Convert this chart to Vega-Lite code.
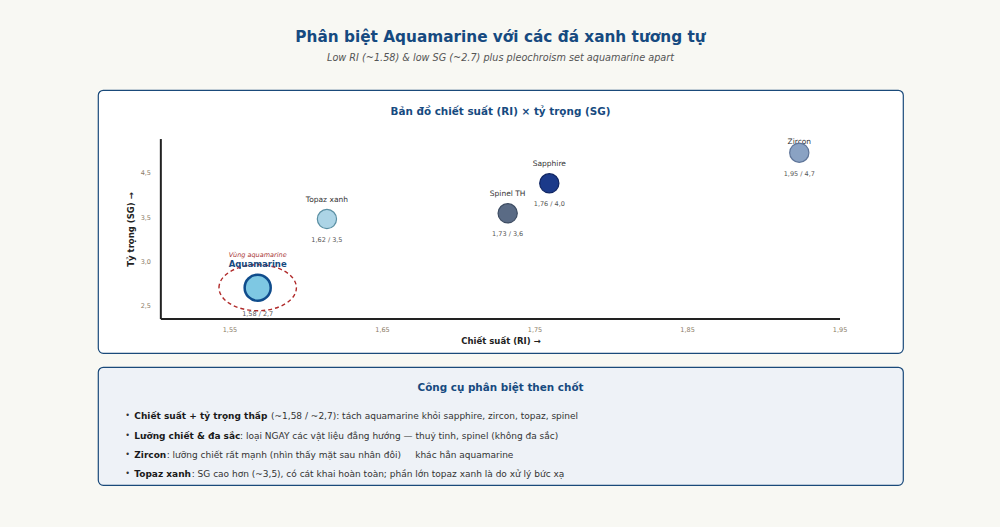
{
  "$schema": "https://vega.github.io/schema/vega-lite/v6.json",
  "background": "#f8f8f3",
  "padding": {"left": 97, "right": 98, "top": 30, "bottom": 42},
  "config": {"font": "DejaVu Sans", "view": {"stroke": null}},
  "title": {
    "text": "Phân biệt Aquamarine với các đá xanh tương tự",
    "subtitle": "Low RI (~1.58) & low SG (~2.7) plus pleochroism set aquamarine apart",
    "anchor": "middle",
    "frame": "group",
    "fontSize": 15.3,
    "fontWeight": "bold",
    "color": "#164a80",
    "subtitleFontSize": 9.7,
    "subtitleFontStyle": "italic",
    "subtitleColor": "#555555",
    "subtitlePadding": 7,
    "offset": 27
  },
  "datasets": {
    "gems": [
      {"name": "Aquamarine", "ri": 1.5685, "sg": 2.703, "label": "1,58 / 2,7"},
      {"name": "Topaz xanh", "ri": 1.6139, "sg": 3.477, "label": "1,62 / 3,5"},
      {"name": "Spinel TH", "ri": 1.7324, "sg": 3.542, "label": "1,73 / 3,6"},
      {"name": "Sapphire", "ri": 1.7597, "sg": 3.88, "label": "1,76 / 4,0"},
      {"name": "Zircon", "ri": 1.9236, "sg": 4.225, "label": "1,95 / 4,7"}
    ],
    "tips": [
      {"i": 1, "bold": "Chiết suất + tỷ trọng thấp", "rest": "(~1,58 / ~2,7): tách aquamarine khỏi sapphire, zircon, topaz, spinel"},
      {"i": 2, "bold": "Lưỡng chiết & đa sắc", "rest": ": loại NGAY các vật liệu đẳng hướng — thuỷ tinh, spinel (không đa sắc)"},
      {"i": 3, "bold": "Zircon", "rest": ": lưỡng chiết rất mạnh (nhìn thấy mặt sau nhân đôi)\u00a0\u00a0\u00a0\u00a0\u00a0khác hẳn aquamarine"},
      {"i": 4, "bold": "Topaz xanh", "rest": ": SG cao hơn (~3,5), có cát khai hoàn toàn; phần lớn topaz xanh là do xử lý bức xạ"}
    ]
  },
  "spacing": 12,
  "vconcat": [
    {
      "width": 805,
      "height": 263,
      "view": {"fill": "#ffffff", "stroke": "#1a4a7a", "strokeWidth": 1.2, "cornerRadius": 5},
      "title": {
        "text": "Bản đồ chiết suất (RI) × tỷ trọng (SG)",
        "fontSize": 10.4,
        "fontWeight": "bold",
        "color": "#164a80",
        "anchor": "middle",
        "offset": -27
      },
      "data": {"name": "gems"},
      "layer": [
        {
          "data": {"values": [{"part": "x"}]},
          "mark": {"type": "rule", "color": "#222222", "strokeWidth": 2},
          "encoding": {
            "x": {"datum": 1.505, "type": "quantitative"},
            "x2": {"datum": 1.9503},
            "y": {"datum": 2.35, "type": "quantitative"}
          }
        },
        {
          "data": {"values": [{"part": "y"}]},
          "mark": {"type": "rule", "color": "#222222", "strokeWidth": 2},
          "encoding": {
            "x": {"datum": 1.505, "type": "quantitative"},
            "y": {"datum": 2.35, "type": "quantitative"},
            "y2": {"datum": 4.379}
          }
        },
        {
          "transform": [{"filter": "datum.name === 'Aquamarine'"}],
          "mark": {"type": "point", "shape": "M -1 0 A 1 0.594 0 1 1 1 0 A 1 0.594 0 1 1 -1 0 Z", "filled": false, "stroke": "#b02a2a", "strokeWidth": 1.4, "strokeDash": [4, 3], "size": 5990, "opacity": 1},
          "encoding": {
            "x": {"field": "ri", "type": "quantitative"},
            "y": {"field": "sg", "type": "quantitative"}
          }
        },
        {
          "transform": [{"filter": "datum.name === 'Aquamarine'"}],
          "mark": {"type": "text", "fontSize": 6.5, "fontStyle": "italic", "color": "#a83232", "dy": -33, "baseline": "middle"},
          "encoding": {
            "x": {"field": "ri", "type": "quantitative"},
            "y": {"field": "sg", "type": "quantitative"},
            "text": {"value": "Vùng aquamarine"}
          }
        },
        {
          "transform": [{"filter": "datum.name !== 'Aquamarine' && datum.name !== 'Zircon'"}],
          "mark": {"type": "text", "fontSize": 7.5, "color": "#333333", "dy": -19, "baseline": "middle"},
          "encoding": {
            "x": {"field": "ri", "type": "quantitative"},
            "y": {"field": "sg", "type": "quantitative"},
            "text": {"field": "name"}
          }
        },
        {
          "transform": [{"filter": "datum.name === 'Zircon'"}],
          "mark": {"type": "text", "fontSize": 7.5, "color": "#333333", "dy": -11, "baseline": "middle"},
          "encoding": {
            "x": {"field": "ri", "type": "quantitative"},
            "y": {"field": "sg", "type": "quantitative"},
            "text": {"field": "name"}
          }
        },
        {
          "mark": {"type": "circle", "opacity": 1},
          "encoding": {
            "x": {
              "field": "ri",
              "type": "quantitative",
              "scale": {"domain": [1.4638, 1.9916], "nice": false, "zero": false},
              "axis": {
                "values": [1.55, 1.65, 1.75, 1.85, 1.95],
                "labelExpr": "replace(format(datum.value, '.2f'), '.', ',')",
                "offset": -34,
                "domain": false,
                "ticks": false,
                "grid": false,
                "labelFontSize": 6.5,
                "labelColor": "#8b7b66",
                "labelPadding": 7,
                "title": "Chiết suất (RI) →",
                "titleFontSize": 8.5,
                "titleFontWeight": "bold",
                "titleColor": "#222222",
                "titlePadding": 4
              }
            },
            "y": {
              "field": "sg",
              "type": "quantitative",
              "scale": {"domain": [1.967, 4.932], "nice": false, "zero": false},
              "axis": {
                "values": [2.5, 3, 3.5, 4],
                "labelExpr": "datum.value == 4 ? '4,5' : replace(format(datum.value, '.1f'), '.', ',')",
                "offset": -62.5,
                "domain": false,
                "ticks": false,
                "grid": false,
                "labelFontSize": 6.5,
                "labelColor": "#8b7b66",
                "labelPadding": 10,
                "title": "Tỷ trọng (SG) →",
                "titleFontSize": 8.5,
                "titleFontWeight": "bold",
                "titleColor": "#222222",
                "titleX": -30,
                "titleY": 139,
                "titleAngle": -90,
                "titleAlign": "center",
                "titleBaseline": "middle"
              }
            },
            "fill": {
              "field": "name",
              "type": "nominal",
              "scale": {"domain": ["Aquamarine", "Topaz xanh", "Spinel TH", "Sapphire", "Zircon"], "range": ["#7ec8e3", "#acd4e6", "#5a6b85", "#1b3a8a", "#8aa2c3"]},
              "legend": null
            },
            "stroke": {
              "field": "name",
              "type": "nominal",
              "scale": {"domain": ["Aquamarine", "Topaz xanh", "Spinel TH", "Sapphire", "Zircon"], "range": ["#0f4c8c", "#5a8fa3", "#3e4d63", "#0f2563", "#5e7498"]},
              "legend": null
            },
            "strokeWidth": {"condition": {"test": "datum.name === 'Aquamarine'", "value": 2.5}, "value": 1.2},
            "size": {"condition": {"test": "datum.name === 'Aquamarine'", "value": 680}, "value": 370}
          }
        },
        {
          "transform": [{"filter": "datum.name === 'Aquamarine'"}],
          "mark": {"type": "text", "fontSize": 8.5, "fontWeight": "bold", "color": "#164a80", "dy": -24, "baseline": "middle"},
          "encoding": {
            "x": {"field": "ri", "type": "quantitative"},
            "y": {"field": "sg", "type": "quantitative"},
            "text": {"field": "name"}
          }
        },
        {
          "transform": [{"filter": "datum.name !== 'Aquamarine'"}],
          "mark": {"type": "text", "fontSize": 6.5, "color": "#555555", "baseline": "middle", "dy": 21},
          "encoding": {
            "x": {"field": "ri", "type": "quantitative"},
            "y": {"field": "sg", "type": "quantitative"},
            "text": {"field": "label"}
          }
        },
        {
          "transform": [{"filter": "datum.name === 'Aquamarine'"}],
          "mark": {"type": "text", "fontSize": 6.5, "color": "#555555", "dy": 26.5, "baseline": "middle"},
          "encoding": {
            "x": {"field": "ri", "type": "quantitative"},
            "y": {"field": "sg", "type": "quantitative"},
            "text": {"field": "label"}
          }
        }
      ]
    },
    {
      "width": 805,
      "height": 118,
      "view": {"fill": "#eef2f7", "stroke": "#1a4a7a", "strokeWidth": 1.2, "cornerRadius": 5},
      "title": {
        "text": "Công cụ phân biệt then chốt",
        "fontSize": 10.4,
        "fontWeight": "bold",
        "color": "#164a80",
        "anchor": "middle",
        "offset": -26
      },
      "data": {"name": "tips"},
      "encoding": {
        "y": {"field": "i", "type": "quantitative", "scale": {"domain": [-1.55, 4.553], "reverse": true, "nice": false, "zero": false}, "axis": null}
      },
      "layer": [
        {
          "mark": {"type": "text", "fontSize": 8, "color": "#333333", "baseline": "middle", "align": "center"},
          "encoding": {"x": {"value": 29.7}, "text": {"value": "•"}}
        },
        {
          "mark": {"type": "text", "fontSize": 9, "fontWeight": "bold", "color": "#1a1a1a", "baseline": "middle", "align": "left"},
          "encoding": {"x": {"value": 36.3}, "text": {"field": "bold"}}
        },
        {
          "transform": [{"filter": "datum.i == 1"}],
          "mark": {"type": "text", "fontSize": 9, "color": "#333333", "baseline": "middle", "align": "left"},
          "encoding": {"x": {"value": 173}, "text": {"field": "rest"}}
        },
        {
          "transform": [{"filter": "datum.i == 2"}],
          "mark": {"type": "text", "fontSize": 9, "color": "#333333", "baseline": "middle", "align": "left"},
          "encoding": {"x": {"value": 142}, "text": {"field": "rest"}}
        },
        {
          "transform": [{"filter": "datum.i == 3"}],
          "mark": {"type": "text", "fontSize": 9, "color": "#333333", "baseline": "middle", "align": "left"},
          "encoding": {"x": {"value": 68.7}, "text": {"field": "rest"}}
        },
        {
          "transform": [{"filter": "datum.i == 4"}],
          "mark": {"type": "text", "fontSize": 9, "color": "#333333", "baseline": "middle", "align": "left"},
          "encoding": {"x": {"value": 93.7}, "text": {"field": "rest"}}
        }
      ]
    }
  ]
}
